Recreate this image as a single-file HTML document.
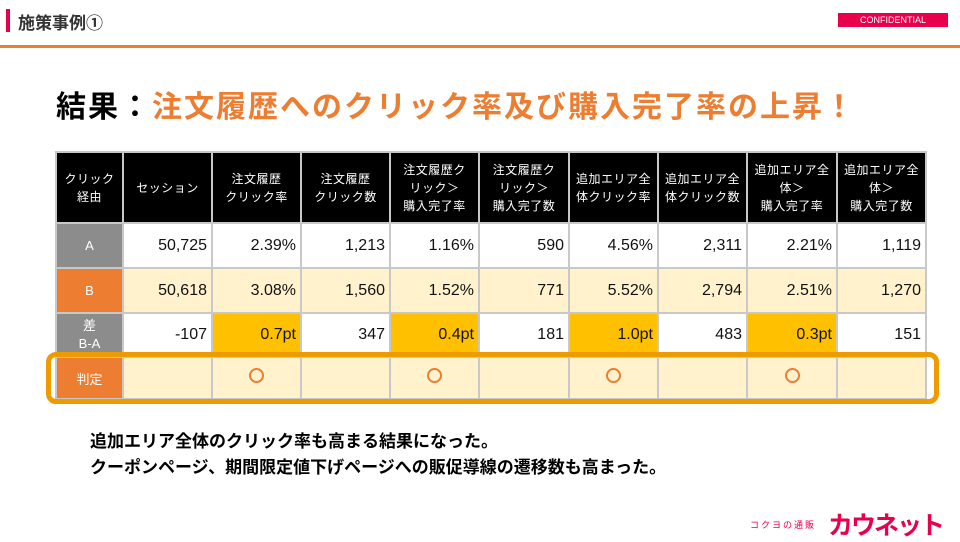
<!DOCTYPE html>
<html><head><meta charset="utf-8">
<style>
body{margin:0;width:960px;height:540px;background:#fff;position:relative;overflow:hidden;font-family:"Liberation Sans","Noto Sans CJK JP",sans-serif;}
.abs{position:absolute}
table{position:absolute;left:55px;top:151px;border-collapse:collapse;table-layout:fixed}
td{border:2px solid #c8c8c8;padding:0 4px;font-size:16px;color:#111;text-align:right;box-sizing:border-box;white-space:nowrap;overflow:hidden}
tr.h td{background:#000;color:#fff;font-size:12px;text-align:center;line-height:18px;height:71px;padding:0;letter-spacing:0.5px}
td.lab{text-align:center;color:#fff;font-size:13px;padding:0}
tr.a td{height:45px;background:#fff}
tr.b td{height:45px;background:#fff2cc}
tr.d td{height:44px;background:#fff}
tr.j td{height:42px;background:#fff2cc}
td.y{background:#ffc000 !important}
.circ{display:inline-block;width:11px;height:11px;border:2px solid #ed7d31;border-radius:50%}
</style></head><body>
<div class="abs" style="left:6px;top:9px;width:4px;height:23px;background:#e8004c"></div>
<div class="abs" style="left:18px;top:9px;font-size:17px;color:#333;font-weight:bold">施策事例①</div>
<div class="abs" style="left:838px;top:13px;width:110px;height:14px;background:#e8004c;color:#fff;font-size:9px;text-align:center;line-height:14px">CONFIDENTIAL</div>
<div class="abs" style="left:0;top:45px;width:960px;height:3px;background:#ed7d31"></div>
<div class="abs" style="left:56px;top:82px;font-size:30px;font-weight:bold;letter-spacing:2px;color:#000;white-space:nowrap">結果：<span style="color:#ed7d31">注文履歴へのクリック率及び購入完了率の上昇！</span></div>

<table>
<colgroup><col style="width:67px"><col style="width:89px"><col style="width:89px"><col style="width:89px"><col style="width:89px"><col style="width:90px"><col style="width:89px"><col style="width:89px"><col style="width:90px"><col style="width:89px"></colgroup>
<tr class="h"><td>クリック<br>経由</td><td>セッション</td><td>注文履歴<br>クリック率</td><td>注文履歴<br>クリック数</td><td>注文履歴ク<br>リック＞<br>購入完了率</td><td>注文履歴ク<br>リック＞<br>購入完了数</td><td>追加エリア全<br>体クリック率</td><td>追加エリア全<br>体クリック数</td><td>追加エリア全<br>体＞<br>購入完了率</td><td>追加エリア全<br>体＞<br>購入完了数</td></tr>
<tr class="a"><td class="lab" style="background:#8c8c8c">A</td><td>50,725</td><td>2.39%</td><td>1,213</td><td>1.16%</td><td>590</td><td>4.56%</td><td>2,311</td><td>2.21%</td><td>1,119</td></tr>
<tr class="b"><td class="lab" style="background:#ed7d31">B</td><td>50,618</td><td>3.08%</td><td>1,560</td><td>1.52%</td><td>771</td><td>5.52%</td><td>2,794</td><td>2.51%</td><td>1,270</td></tr>
<tr class="d"><td class="lab" style="background:#8c8c8c;line-height:18px">差<br>B-A</td><td>-107</td><td class="y">0.7pt</td><td>347</td><td class="y">0.4pt</td><td>181</td><td class="y">1.0pt</td><td>483</td><td class="y">0.3pt</td><td>151</td></tr>
<tr class="j"><td class="lab" style="background:#ed7d31">判定</td><td></td><td style="text-align:center"><span class="circ"></span></td><td></td><td style="text-align:center"><span class="circ"></span></td><td></td><td style="text-align:center"><span class="circ"></span></td><td></td><td style="text-align:center"><span class="circ"></span></td><td></td></tr>
</table>
<div class="abs" style="left:46px;top:352px;width:883px;height:42px;border:5px solid #ee9b00;border-radius:10px"></div>

<div class="abs" style="left:90px;top:429px;font-size:17px;font-weight:bold;line-height:26px;color:#000;white-space:nowrap">追加エリア全体のクリック率も高まる結果になった。<br>クーポンページ、期間限定値下げページへの販促導線の遷移数も高まった。</div>

<div class="abs" style="left:750px;top:518px;font-size:9px;color:#e8004c;letter-spacing:2px;white-space:nowrap">コクヨの通販</div>
<div class="abs" style="left:828px;top:506px;font-size:25px;font-weight:bold;color:#e8004c;letter-spacing:-2px;white-space:nowrap">カウネット</div>
</body></html>
